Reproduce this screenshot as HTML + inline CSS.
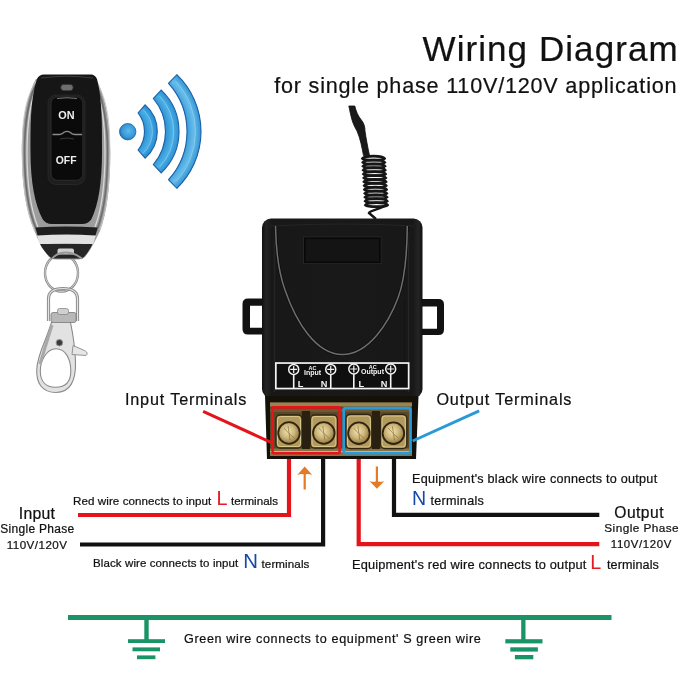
<!DOCTYPE html>
<html><head><meta charset="utf-8">
<style>
html,body{margin:0;padding:0;background:#fff;width:679px;height:679px;overflow:hidden}
svg{display:block;will-change:transform}
text{font-family:"Liberation Sans",sans-serif}
</style></head><body>
<svg width="679" height="679" viewBox="0 0 679 679">
<defs>
  <linearGradient id="silverH" x1="0" y1="0" x2="1" y2="0">
    <stop offset="0" stop-color="#8a8a8a"/>
    <stop offset="0.04" stop-color="#d8d8d8"/>
    <stop offset="0.09" stop-color="#707070"/>
    <stop offset="0.5" stop-color="#9a9a9a"/>
    <stop offset="0.91" stop-color="#707070"/>
    <stop offset="0.96" stop-color="#e0e0e0"/>
    <stop offset="1" stop-color="#8a8a8a"/>
  </linearGradient>
  <radialGradient id="wavefill" gradientUnits="userSpaceOnUse" cx="122" cy="131.5" r="80">
    <stop offset="0.28" stop-color="#2a8ed2"/>
    <stop offset="0.36" stop-color="#48aee4"/>
    <stop offset="0.43" stop-color="#2a8ed2"/>
    <stop offset="0.54" stop-color="#2a8ed2"/>
    <stop offset="0.63" stop-color="#4db0e4"/>
    <stop offset="0.71" stop-color="#2f92d4"/>
    <stop offset="0.81" stop-color="#3a9cda"/>
    <stop offset="0.90" stop-color="#68bde9"/>
    <stop offset="0.99" stop-color="#3294d4"/>
  </radialGradient>
  <radialGradient id="dotg" cx="0.55" cy="0.45" r="0.6">
    <stop offset="0" stop-color="#5fb8ea"/>
    <stop offset="0.7" stop-color="#3596d6"/>
    <stop offset="1" stop-color="#1a5fa8"/>
  </radialGradient>
  <radialGradient id="brass" cx="0.45" cy="0.42" r="0.62">
    <stop offset="0" stop-color="#efe4b4"/>
    <stop offset="0.5" stop-color="#cdb67a"/>
    <stop offset="0.85" stop-color="#9c8248"/>
    <stop offset="1" stop-color="#5e4a22"/>
  </radialGradient>
  <linearGradient id="boxg" x1="0" y1="0" x2="1" y2="0">
    <stop offset="0" stop-color="#101010"/>
    <stop offset="0.025" stop-color="#242424"/>
    <stop offset="0.06" stop-color="#181818"/>
    <stop offset="0.5" stop-color="#191919"/>
    <stop offset="0.94" stop-color="#181818"/>
    <stop offset="0.975" stop-color="#242424"/>
    <stop offset="1" stop-color="#101010"/>
  </linearGradient>
  <linearGradient id="clasp" x1="0" y1="0" x2="1" y2="0">
    <stop offset="0" stop-color="#7a7a7a"/>
    <stop offset="0.4" stop-color="#d8d8d8"/>
    <stop offset="1" stop-color="#9a9a9a"/>
  </linearGradient>
</defs>

<!-- ===== Remote ===== -->
<g id="remote">
  <!-- key ring -->
  <ellipse cx="61.5" cy="273" rx="16.5" ry="18.5" fill="none" stroke="#8a8a8a" stroke-width="2.4"/>
  <ellipse cx="61.5" cy="273" rx="16.5" ry="18.5" fill="none" stroke="#e0e0e0" stroke-width="0.8"/>
  <!-- silver outer -->
  <path d="M36,79 C26,96 21.8,125 21.8,152 C21.8,185 26,212 34,230 C38,240 43,250 49,257 Q51.5,259.5 56,259.5 L78,259.5 Q82.5,259.5 85,257 C91,250 95,241 100,231 C107,213 110.4,185 110.3,152 C110,125 106,96 96,79 Z" fill="#9c9c9c"/>
  <path d="M37.5,81 C28.5,97 24.5,125 24.5,152 C24.5,184 28.5,211 36,228.5 C40,238 45,248 50.5,255" fill="none" stroke="#6e6e6e" stroke-width="1.6"/>
  <path d="M94.5,81 C103,97 107.6,125 107.6,152 C107.6,184 104,211 97.5,228.5 C93.5,238 89,248 83.5,255" fill="none" stroke="#6e6e6e" stroke-width="1.6"/>
  <path d="M39,83 C30.5,98 27,125 27,152 C27,183 31,210 38,227" fill="none" stroke="#d8d8d8" stroke-width="1.3"/>
  <path d="M93,83 C101.5,98 105,125 105,152 C105,183 101.5,210 95,227" fill="none" stroke="#d8d8d8" stroke-width="1.3"/>
  <path d="M36.5,81 C23.5,100 22.3,125 22.3,152 C22.3,185 26.5,212 34.5,230" fill="none" stroke="#c8c8c8" stroke-width="0.9"/>
  <path d="M95.5,81 C108.5,100 109.8,125 109.8,152 C109.8,185 106.5,212 99.5,230" fill="none" stroke="#c8c8c8" stroke-width="0.9"/>
  <!-- bright chin -->
  <path d="M37,235 Q66,232.5 96,235 L93,244.5 Q66,242.5 40,244.5 Z" fill="#e2e2e2"/>
  <!-- dark tip -->
  <path d="M40,244 L92.5,244 C89.5,250 86.5,255 82,258.5 L52,258.5 C47.5,255 43,250 40,244 Z" fill="#262626"/>
  <path d="M57.5,254.5 L57.5,250.5 Q57.5,248.5 59.5,248.5 L72,248.5 Q74,248.5 74,250.5 L74,254.5 Z" fill="#d0d0d0"/>
  <path d="M52,258.5 C56,254 62,252.5 66,252.5 C70,252.5 76,254 82,258.5" fill="none" stroke="#9a9a9a" stroke-width="1.8"/>
  <!-- lower black band -->
  <path d="M35.5,227.5 Q66,225.5 97.5,227.5 L95.5,235.5 Q66,233.5 37.5,235.5 Z" fill="#1e1e1e"/>
  <!-- black body -->
  <path d="M44,74.5 L91,74.5 Q95,74.5 97,79 C102.5,100 102,128 102,152 C102,182 98.5,205 91.5,219 Q88.5,224 82,224 L52,224 Q45.5,224 42.5,219 C35,205 30.5,182 30.5,152 C30.5,128 30,100 37,79 Q39,74.5 44,74.5 Z" fill="#161616"/>
  <path d="M41,78 Q66,74.5 93,78" fill="none" stroke="#3c3c3c" stroke-width="1.2"/>
  <!-- LED -->
  <rect x="60.7" y="84.3" width="12.5" height="6.5" rx="3.2" fill="#6e6e6e" stroke="#2a2a2a" stroke-width="0.8"/>
  <!-- button panel -->
  <rect x="48" y="95" width="37" height="89.5" rx="8" fill="#1e1e1e" stroke="#2a2a2a" stroke-width="0.8"/>
  <rect x="51" y="96.8" width="31.8" height="83.5" rx="6.5" fill="#0a0a0a" stroke="#2c2c2c" stroke-width="1"/>
  <path d="M57,98.5 Q67,97 77,98.5" fill="none" stroke="#777" stroke-width="1"/>
  <path d="M52.5,134.5 H59.5 Q62,134.5 64,132.3 Q67,130.3 70,132.3 Q72,134.5 74.5,134.5 H82" fill="none" stroke="#8a8a8a" stroke-width="1.3"/>
  <path d="M60,139 Q67,137 74,139" fill="none" stroke="#444" stroke-width="0.8"/>
  <text x="58.2" y="119.3" font-size="11.5" font-weight="bold" fill="#f0f0f0" textLength="16.3" lengthAdjust="spacingAndGlyphs">ON</text>
  <text x="55.7" y="164.1" font-size="11.5" font-weight="bold" fill="#f0f0f0" textLength="20.8" lengthAdjust="spacingAndGlyphs">OFF</text>
  <!-- swivel D ring -->
  <path d="M48.5,321 V299 Q48.5,288.5 63,288.5 Q77.5,288.5 77.5,299 V321" fill="none" stroke="#8c8c8c" stroke-width="3.2"/>
  <path d="M48.5,321 V299 Q48.5,288.5 63,288.5 Q77.5,288.5 77.5,299 V321" fill="none" stroke="#e4e4e4" stroke-width="1.2"/>
  <!-- swivel nut -->
  <rect x="51" y="312.5" width="25" height="10" rx="2" fill="#b8b8b8" stroke="#7a7a7a" stroke-width="0.8"/>
  <rect x="57.5" y="308.5" width="11" height="6" rx="2" fill="#d0d0d0" stroke="#808080" stroke-width="0.7"/>
  <!-- clasp -->
  <path fill-rule="evenodd" fill="#e2e2e2" stroke="#8a8a8a" stroke-width="1.1"
    d="M51.5,322.5 L70.5,322.5 C72.5,332 75,346 75.5,362 C76,381 70,392.5 56,392.5 C42,392.5 36,383 36.8,369 C37.5,356 44,344 47.5,334 Z
       M56,348.8 C65.5,348.8 70.8,359 70.8,371 C70.8,382 65,387.2 55.5,387.2 C45.5,387.2 40.3,381 40.3,371 C40.3,360 47,348.8 56,348.8 Z"/>
  <path d="M52,325 L40,364" fill="none" stroke="#a8a8a8" stroke-width="3"/>
  <path d="M73,345.5 L84.5,350.5 Q89,353 86,355.5 L72,354.5 Z" fill="#e6e6e6" stroke="#8a8a8a" stroke-width="0.9"/>
  <circle cx="59.4" cy="342.7" r="3.3" fill="#3a3a3a" stroke="#9a9a9a" stroke-width="1"/>
</g>

<!-- ===== Wireless waves ===== -->
<g id="waves">
  <circle cx="127.7" cy="131.7" r="8.2" fill="url(#dotg)" stroke="#1a63aa" stroke-width="0.8"/>
<path d="M145.16,104.86 A35.3,35.3 0 0 1 145.16,158.14 L138.07,149.99 A29.81,29.81 0 0 0 138.07,113.01 Z" fill="url(#wavefill)" stroke="#1b5fa6" stroke-width="1.1"/>
<path d="M143.12,109.63 A30.4,30.4 0 0 1 143.12,153.37" fill="none" stroke="#a4dcf6" stroke-width="1" opacity="0.55"/>
<path d="M161.24,90.15 A57,57 0 0 1 161.24,172.85 L153.32,164.50 A50.81,50.81 0 0 0 153.32,98.50 Z" fill="url(#wavefill)" stroke="#1b5fa6" stroke-width="1.1"/>
<path d="M159.54,95.88 A51.75,51.75 0 0 1 159.54,167.12" fill="none" stroke="#a4dcf6" stroke-width="1" opacity="0.55"/>
<path d="M176.88,74.67 A79,79 0 0 1 176.88,188.33 L168.54,179.70 A72.15,72.15 0 0 0 168.54,83.30 Z" fill="url(#wavefill)" stroke="#1b5fa6" stroke-width="1.1"/>
<path d="M175.75,81.37 A73.5,73.5 0 0 1 175.75,181.63" fill="none" stroke="#a4dcf6" stroke-width="1" opacity="0.55"/>
</g>

<!-- ===== Antenna ===== -->
<g id="antenna" fill="none" stroke="#161616">
  <path d="M348.8,106 L354.8,106 C356,111 358,116 361,119.5 C364,123 365,127 365,131 C366,138 367.5,146 369.5,155.5 L363.5,155.5 C362,148 360.5,139 357,131 C354,126 352,121 351,116 C350,112 349.5,109 348.8,106 Z" fill="#1a1a1a" stroke="#0e0e0e" stroke-width="0.8"/>
  <g stroke-width="2.7">
<path d="M362.5,158.5 C364.5,155.3 382.5,155.3 384.5,158.5 C382.5,160.7 364.5,160.7 362.5,158.5 Z" />
<path d="M362.8,162.4 C364.8,159.2 382.8,159.2 384.8,162.4 C382.8,164.6 364.8,164.6 362.8,162.4 Z" />
<path d="M363.0,166.2 C365.0,163.1 383.0,163.1 385.0,166.2 C383.0,168.4 365.0,168.4 363.0,166.2 Z" />
<path d="M363.2,170.1 C365.2,166.9 383.2,166.9 385.2,170.1 C383.2,172.3 365.2,172.3 363.2,170.1 Z" />
<path d="M363.5,174.0 C365.5,170.8 383.5,170.8 385.5,174.0 C383.5,176.2 365.5,176.2 363.5,174.0 Z" />
<path d="M363.8,177.9 C365.8,174.7 383.8,174.7 385.8,177.9 C383.8,180.1 365.8,180.1 363.8,177.9 Z" />
<path d="M364.0,181.8 C366.0,178.6 384.0,178.6 386.0,181.8 C384.0,183.9 366.0,183.9 364.0,181.8 Z" />
<path d="M364.2,185.6 C366.2,182.4 384.2,182.4 386.2,185.6 C384.2,187.8 366.2,187.8 364.2,185.6 Z" />
<path d="M364.5,189.5 C366.5,186.3 384.5,186.3 386.5,189.5 C384.5,191.7 366.5,191.7 364.5,189.5 Z" />
<path d="M364.8,193.4 C366.8,190.2 384.8,190.2 386.8,193.4 C384.8,195.6 366.8,195.6 364.8,193.4 Z" />
<path d="M365.0,197.2 C367.0,194.1 385.0,194.1 387.0,197.2 C385.0,199.4 367.0,199.4 365.0,197.2 Z" />
<path d="M365.2,201.1 C367.2,197.9 385.2,197.9 387.2,201.1 C385.2,203.3 367.2,203.3 365.2,201.1 Z" />
<path d="M365.5,205.0 C367.5,201.8 385.5,201.8 387.5,205.0 C385.5,207.2 367.5,207.2 365.5,205.0 Z" />
  </g>
  <path d="M386,205 C382,209 370,210 369,213 L376,219" stroke-width="2.4"/>
</g>

<!-- ===== Relay box ===== -->
<g id="relay">
  <!-- tabs -->
  <path fill-rule="evenodd" fill="#121212" d="M264,298.5 H248 Q242.5,298.5 242.5,304 V329 Q242.5,334.5 248,334.5 H264 Z M250,305.7 H264 V327.7 H250 Z"/>
  <path fill-rule="evenodd" fill="#121212" d="M420,299 H438.5 Q444,299 444,304.5 V329.5 Q444,335 438.5,335 H420 Z M420,306.6 H437 V328.7 H420 Z"/>
  <!-- main body -->
  <rect x="262" y="218.5" width="160.5" height="179.5" rx="9" fill="url(#boxg)"/>
  <path d="M270,226 Q342,222 414,226" fill="none" stroke="#252525" stroke-width="1.2"/>
  <path d="M408.5,232 V392" stroke="#262626" stroke-width="1.4"/>
  <path d="M404.5,300 V392" stroke="#121212" stroke-width="1"/>
  <path d="M274.5,232 V392" stroke="#242424" stroke-width="1.4"/>
  <path d="M268,226 V392" stroke="#222" stroke-width="1"/>
  <path d="M417,226 V392" stroke="#222" stroke-width="1"/>
  <!-- window -->
  <rect x="303.5" y="237" width="77.5" height="26.5" fill="none" stroke="#262626" stroke-width="1"/>
  <rect x="304.8" y="238.3" width="75" height="24" fill="#141414" stroke="#080808" stroke-width="1.6"/>
  <!-- U curve -->
  <path d="M275.5,226 C276,252 278.5,272 285,290 C296,322 316,354.5 342.5,354.5 C369,354.5 389,322 398,298 C404,282 407,258 407.3,226" fill="none" stroke="#0e0e0e" stroke-width="3"/>
  <path d="M275.5,226 C276,252 278.5,272 285,290 C296,322 316,354.5 342.5,354.5 C369,354.5 389,322 398,298 C404,282 407,258 407.3,226" fill="none" stroke="#6e6e6e" stroke-width="1.5"/>
  <!-- label panel -->
  <rect x="275.85" y="363.05" width="132.8" height="25.5" fill="#0f0f0f" stroke="#f4f4f4" stroke-width="1.7"/>
  <g stroke="#f4f4f4" stroke-width="1.2" fill="none">
    <circle cx="293.7" cy="369.4" r="5" stroke-width="1.5"/>
    <circle cx="330.75" cy="369.4" r="5" stroke-width="1.5"/>
    <circle cx="353.8" cy="369" r="5" stroke-width="1.5"/>
    <circle cx="390.7" cy="369" r="5" stroke-width="1.5"/>
    <path d="M290.2,369.4 H297.2 M293.7,365.9 V372.9 M327.25,369.4 H334.25 M330.75,365.9 V372.9 M350.3,369 H357.3 M353.8,365.5 V372.5 M387.2,369 H394.2 M390.7,365.5 V372.5"/>
    <path d="M293.7,374.4 V388.5 M330.75,374.4 V388.5 M353.8,374 V388.5 M390.7,374 V388.5" stroke-width="1.6"/>
  </g>
  <g fill="#f4f4f4" font-weight="bold" text-anchor="middle">
    <text x="312.5" y="369.5" font-size="5.5">AC</text>
    <text x="312.6" y="374.6" font-size="7">Input</text>
    <text x="300.5" y="386.5" font-size="9.2">L</text>
    <text x="324" y="386.5" font-size="9.2">N</text>
    <text x="372.8" y="369.2" font-size="5.5">AC</text>
    <text x="372.5" y="374.4" font-size="7">Output</text>
    <text x="361.3" y="386.5" font-size="9.2">L</text>
    <text x="384" y="386.5" font-size="9.2">N</text>
  </g>
  <!-- terminal housing -->
  <path d="M265,396 H418.5 L416,459 H267 Z" fill="#14100a"/>
  <rect x="270" y="402.5" width="142" height="53.5" fill="#5a4826"/>
  <rect x="270" y="402.5" width="142" height="4" fill="#9a8350"/>
  <rect x="270" y="409" width="142" height="3" fill="#6e5a30"/>
  <rect x="270" y="448.5" width="142" height="7.5" fill="#8a7444"/>
  <rect x="270" y="451" width="142" height="1.2" fill="#c8b47c"/>
  <rect x="301.9" y="411" width="8.2" height="38" fill="#2a2012"/>
  <rect x="372" y="411" width="8" height="38" fill="#2a2012"/>
  <g stroke="#2e2412" stroke-width="1.3">
    <rect x="276" y="415" width="26" height="33" rx="4" fill="#b39a5c"/>
    <rect x="310.5" y="415" width="26.8" height="33" rx="4" fill="#b39a5c"/>
    <rect x="346" y="414.5" width="25.8" height="34" rx="4" fill="#b39a5c"/>
    <rect x="380.6" y="414.5" width="26.2" height="34" rx="4" fill="#b39a5c"/>
  </g>
  <g fill="none" stroke="#e2d29a" stroke-width="0.9" opacity="0.9">
    <rect x="277.5" y="416.5" width="23" height="30" rx="3"/>
    <rect x="312" y="416.5" width="23.8" height="30" rx="3"/>
    <rect x="347.5" y="416" width="22.8" height="31" rx="3"/>
    <rect x="382.1" y="416" width="23.2" height="31" rx="3"/>
  </g>
  <g fill="url(#brass)" stroke="#2e2410" stroke-width="1.8">
    <circle cx="289" cy="433" r="10.8"/>
    <circle cx="323.8" cy="433" r="10.8"/>
    <circle cx="358.9" cy="433.2" r="10.8"/>
    <circle cx="393.4" cy="433.2" r="10.8"/>
  </g>
  <g stroke="#8a7038" stroke-width="1" fill="none" opacity="0.7">
    <path d="M284,428 Q289,434 294,438 M288,426 L290,440"/>
    <path d="M318.8,428 Q323.8,434 328.8,438 M322.8,426 L324.8,440"/>
    <path d="M353.9,428.2 Q358.9,434.2 363.9,438.2 M357.9,426.2 L359.9,440.2"/>
    <path d="M388.4,428.2 Q393.4,434.2 398.4,438.2 M392.4,426.2 L394.4,440.2"/>
  </g>
  <!-- highlight rectangles -->
  <rect x="272.6" y="407.4" width="67" height="45.9" rx="1" fill="none" stroke="#e5141b" stroke-width="2.6"/>
  <rect x="343.7" y="408.1" width="66.8" height="45.1" rx="2" fill="none" stroke="#2a9ad6" stroke-width="2.6"/>
</g>

<!-- ===== Wires ===== -->
<g fill="none" stroke-width="4.2">
  <path d="M78,515 H289 V459" stroke="#e5141b"/>
  <path d="M80,544.5 H323.1 V459" stroke="#111"/>
  <path d="M358.7,459 V544.2 H599.3" stroke="#e5141b"/>
  <path d="M394,459 V514.8 H599.3" stroke="#111"/>
</g>
<!-- pointer lines -->
<path d="M203.1,411.3 L271.5,442.6" stroke="#e5141b" stroke-width="3"/>
<path d="M479.2,410.8 L412.6,441" stroke="#2a9ad6" stroke-width="3"/>
<!-- orange arrows -->
<g fill="#e57a26">
  <path d="M304.7,466.6 L312.3,474.9 Q308.5,473.6 305.8,474.3 V489.5 H303.6 V474.3 Q301,473.6 297.2,474.9 Z"/>
  <path d="M376.9,488.8 L384.4,480.9 Q380.6,482.2 378,481.5 V466.6 H375.8 V481.5 Q373.2,482.2 369.4,480.9 Z"/>
</g>

<!-- ===== Ground ===== -->
<g fill="#1a9466">
  <rect x="68" y="615" width="543.5" height="5"/>
  <rect x="144.3" y="619" width="4.4" height="22"/>
  <rect x="128" y="639.2" width="37" height="3.8"/>
  <rect x="132.5" y="647.4" width="27.5" height="3.9"/>
  <rect x="137" y="655.4" width="18.4" height="3.8"/>
  <rect x="521.2" y="619" width="4.3" height="22"/>
  <rect x="505.3" y="639.2" width="37.2" height="4.2"/>
  <rect x="510.3" y="647.3" width="27.6" height="4.3"/>
  <rect x="514.9" y="655" width="18.4" height="4.3"/>
</g>

<!-- ===== Texts ===== -->
<text id="t_title" x="422.60" y="60.8" font-size="35" fill="#111" stroke="#111" stroke-width="0.22" textLength="254.96" lengthAdjust="spacing">Wiring Diagram</text>
<text id="t_sub" x="274.20" y="93" font-size="21.6" fill="#111" stroke="#111" stroke-width="0.22" textLength="402.37" lengthAdjust="spacing">for single phase 110V/120V application</text>
<text id="t_int" x="124.90" y="404.9" font-size="16.2" fill="#111" stroke="#111" stroke-width="0.22" textLength="121.48" lengthAdjust="spacing">Input Terminals</text>
<text id="t_outt" x="436.40" y="405.1" font-size="16.2" fill="#111" stroke="#111" stroke-width="0.22" textLength="135.06" lengthAdjust="spacing">Output Terminals</text>
<text id="t_in" x="18.80" y="518.6" font-size="15.8" fill="#111" stroke="#111" stroke-width="0.22" textLength="36.14" lengthAdjust="spacing">Input</text>
<text id="t_sp1" x="0.30" y="532.8" font-size="12" fill="#111" stroke="#111" stroke-width="0.22" textLength="73.92" lengthAdjust="spacing">Single Phase</text>
<text id="t_v1" x="6.70" y="548.9" font-size="11.6" fill="#111" stroke="#111" stroke-width="0.22" textLength="60.32" lengthAdjust="spacing">110V/120V</text>
<text id="t_out" x="614.30" y="517.7" font-size="15.6" fill="#111" stroke="#111" stroke-width="0.22" textLength="49.21" lengthAdjust="spacing">Output</text>
<text id="t_sp2" x="604.30" y="532" font-size="11.8" fill="#111" stroke="#111" stroke-width="0.22" textLength="74.33" lengthAdjust="spacing">Single Phase</text>
<text id="t_v2" x="610.80" y="547.7" font-size="11.4" fill="#111" stroke="#111" stroke-width="0.22" textLength="60.53" lengthAdjust="spacing">110V/120V</text>
<text id="t_red1" x="73.10" y="504.8" font-size="11.6" fill="#111" stroke="#111" stroke-width="0.22" textLength="138.23" lengthAdjust="spacing">Red wire connects to input</text>
<text id="t_L1" x="216.50" y="504.8" font-size="19.8" fill="#e31b23">L</text>
<text id="t_term1" x="230.90" y="505" font-size="11.6" fill="#111" stroke="#111" stroke-width="0.22" textLength="47.05" lengthAdjust="spacing">terminals</text>
<text id="t_blk1" x="93.10" y="567.4" font-size="11.5" fill="#111" stroke="#111" stroke-width="0.22" textLength="145.15" lengthAdjust="spacing">Black wire connects to input</text>
<text id="t_N1" x="243.20" y="567.9" font-size="20.4" fill="#1549a8">N</text>
<text id="t_term2" x="261.50" y="567.6" font-size="11.6" fill="#111" stroke="#111" stroke-width="0.22" textLength="47.85" lengthAdjust="spacing">terminals</text>
<text id="t_blk2" x="412.10" y="483.3" font-size="12.6" fill="#111" stroke="#111" stroke-width="0.22" textLength="245.03" lengthAdjust="spacing">Equipment&#39;s black wire connects to output</text>
<text id="t_N2" x="412.00" y="504.8" font-size="19.6" fill="#1549a8">N</text>
<text id="t_term3" x="430.50" y="504.5" font-size="12.6" fill="#111" stroke="#111" stroke-width="0.22" textLength="53.29" lengthAdjust="spacing">terminals</text>
<text id="t_red2" x="351.90" y="568.6" font-size="12.8" fill="#111" stroke="#111" stroke-width="0.22" textLength="234.43" lengthAdjust="spacing">Equipment&#39;s red wire connects to output</text>
<text id="t_L2" x="590.30" y="568.7" font-size="19.8" fill="#e31b23">L</text>
<text id="t_term4" x="607.00" y="568.6" font-size="12.6" fill="#111" stroke="#111" stroke-width="0.22" textLength="51.89" lengthAdjust="spacing">terminals</text>
<text id="t_green" x="184.00" y="643.2" font-size="12.6" fill="#111" stroke="#111" stroke-width="0.22" textLength="296.82" lengthAdjust="spacing">Green wire connects to equipment&#39; S green wire</text>
</svg>
</body></html>
